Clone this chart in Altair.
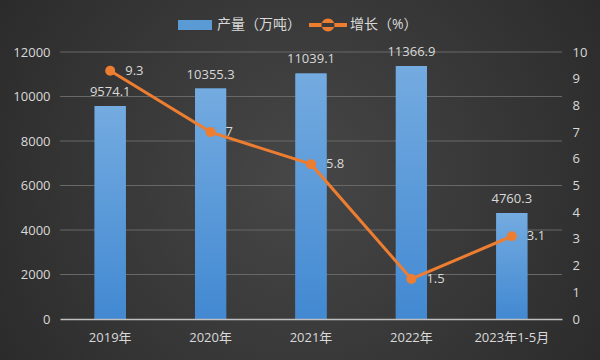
import altair as alt
import pandas as pd

years = ["2019年", "2020年", "2021年", "2022年", "2023年1-5月"]
output = [9574.1, 10355.3, 11039.1, 11366.9, 4760.3]
growth = [9.3, 7, 5.8, 1.5, 3.1]
output_labels = ["9574.1", "10355.3", "11039.1", "11366.9", "4760.3"]
growth_labels = ["9.3", "7", "5.8", "1.5", "3.1"]
series_bar = "产量（万吨）"
series_line = "增长（%）"
left_ticks = [0, 2000, 4000, 6000, 8000, 10000, 12000]
right_ticks = [0, 1, 2, 3, 4, 5, 6, 7, 8, 9, 10]

df = pd.DataFrame({
    "year": years, "output": output, "growth": growth,
    "olab": output_labels, "glab": growth_labels,
    "s1": series_bar, "s2": series_line,
})
grid_df = pd.DataFrame({"output": left_ticks[1:]})

FONT = "Open Sans, Noto Sans CJK SC"
TXT = "#d9d9d9"
BLUE = "#5b9bd5"
ORANGE = "#ED7D31"

x = alt.X("year:N", sort=years,
          scale=alt.Scale(paddingInner=0.69, paddingOuter=0.345),
          axis=alt.Axis(title=None, labelAngle=0, labelFont=FONT, labelFontSize=13,
                        labelColor=TXT, labelPadding=12, ticks=False, zindex=1,
                        domainColor="#bfbfbf", domainWidth=1.5, grid=False))

yL = alt.Y("output:Q", scale=alt.Scale(domain=[0, 12000]),
           axis=alt.Axis(title=None, values=left_ticks, format="d", grid=False,
                         ticks=False, domain=False, zindex=1,
                         labelFont=FONT, labelFontSize=13, labelColor=TXT, labelPadding=10))

yR = alt.Y("growth:Q", scale=alt.Scale(domain=[0, 10]),
           axis=alt.Axis(title=None, orient="right", values=right_ticks, format="d",
                         grid=False, ticks=False, domain=False, zindex=1,
                         labelFont=FONT, labelFontSize=13, labelColor=TXT, labelPadding=10))

bg = alt.Chart(alt.Data(values=[{}])).mark_rect(
    fill=alt.Gradient(gradient="radial",
                      stops=[alt.GradientStop(offset=0, color="#474747"),
                             alt.GradientStop(offset=1, color="#232323")],
                      x1=0.5, y1=0.5, r1=0, x2=0.5, y2=0.5, r2=0.75)
).encode(x=alt.value(-60), x2=alt.value(540), y=alt.value(-52), y2=alt.value(308))

leg1 = alt.Legend(title=None, orient="none", legendX=118, legendY=-44, padding=0,
                  symbolType="M-1,-0.3H1V0.3H-1Z", symbolSize=1156, symbolStrokeWidth=0,
                  symbolOpacity=1, labelFont=FONT, labelFontSize=14, labelColor=TXT,
                  labelOffset=5)
leg2 = alt.Legend(title=None, orient="none", legendX=249, legendY=-46, padding=0,
                  symbolType="M-1,-0.105H1V0.105H-1Z M-0.34,0A0.34,0.34 0 1,0 0.34,0A0.34,0.34 0 1,0 -0.34,0Z",
                  symbolSize=1444, symbolStrokeWidth=0, symbolOpacity=1,
                  labelFont=FONT, labelFontSize=14, labelColor=TXT, labelOffset=3)

base = alt.Chart(df)

grid = alt.Chart(grid_df).mark_rule(color="#686868", strokeWidth=1).encode(
    y=yL, x=alt.value(0), x2=alt.value(502))
bars_solid = base.mark_bar().encode(
    x=x, y=yL,
    color=alt.Color("s1:N", scale=alt.Scale(domain=[series_bar], range=[BLUE]), legend=leg1))
bars_grad = base.mark_bar(
    fill=alt.Gradient(gradient="linear",
                      stops=[alt.GradientStop(offset=0, color="#74abe0"),
                             alt.GradientStop(offset=1, color="#4289d2")],
                      x1=0, y1=0, x2=0, y2=1)
).encode(x=x, y=yL)
bar_text = base.mark_text(baseline="bottom", dy=-7, font=FONT, fontSize=13, color=TXT).encode(
    x=x, y=yL, text="olab:N")

left = alt.layer(grid, bars_solid, bars_grad, bar_text)

line = base.mark_line(color=ORANGE, strokeWidth=3).encode(x=x, y=yR)
points = base.mark_point(filled=True, size=100, opacity=1).encode(
    x=x, y=yR,
    color=alt.Color("s2:N", scale=alt.Scale(domain=[series_line], range=[ORANGE]), legend=leg2))
line_text = base.mark_text(align="left", baseline="middle", dx=15, font=FONT, fontSize=13,
                           color=TXT).encode(x=x, y=yR, text="glab:N")

right = alt.layer(line, points, line_text)

chart = alt.layer(bg, left, right).resolve_scale(
    y="independent", color="independent"
).resolve_legend(color="independent").properties(
    width=502, height=267,
    autosize=alt.AutoSizeParams(type="none"),
    padding={"left": 60, "top": 52, "right": 38, "bottom": 41},
    background="#333333",
).configure_view(strokeWidth=0)

chart.save("out.html", embed_options={"renderer": "svg", "actions": False})
